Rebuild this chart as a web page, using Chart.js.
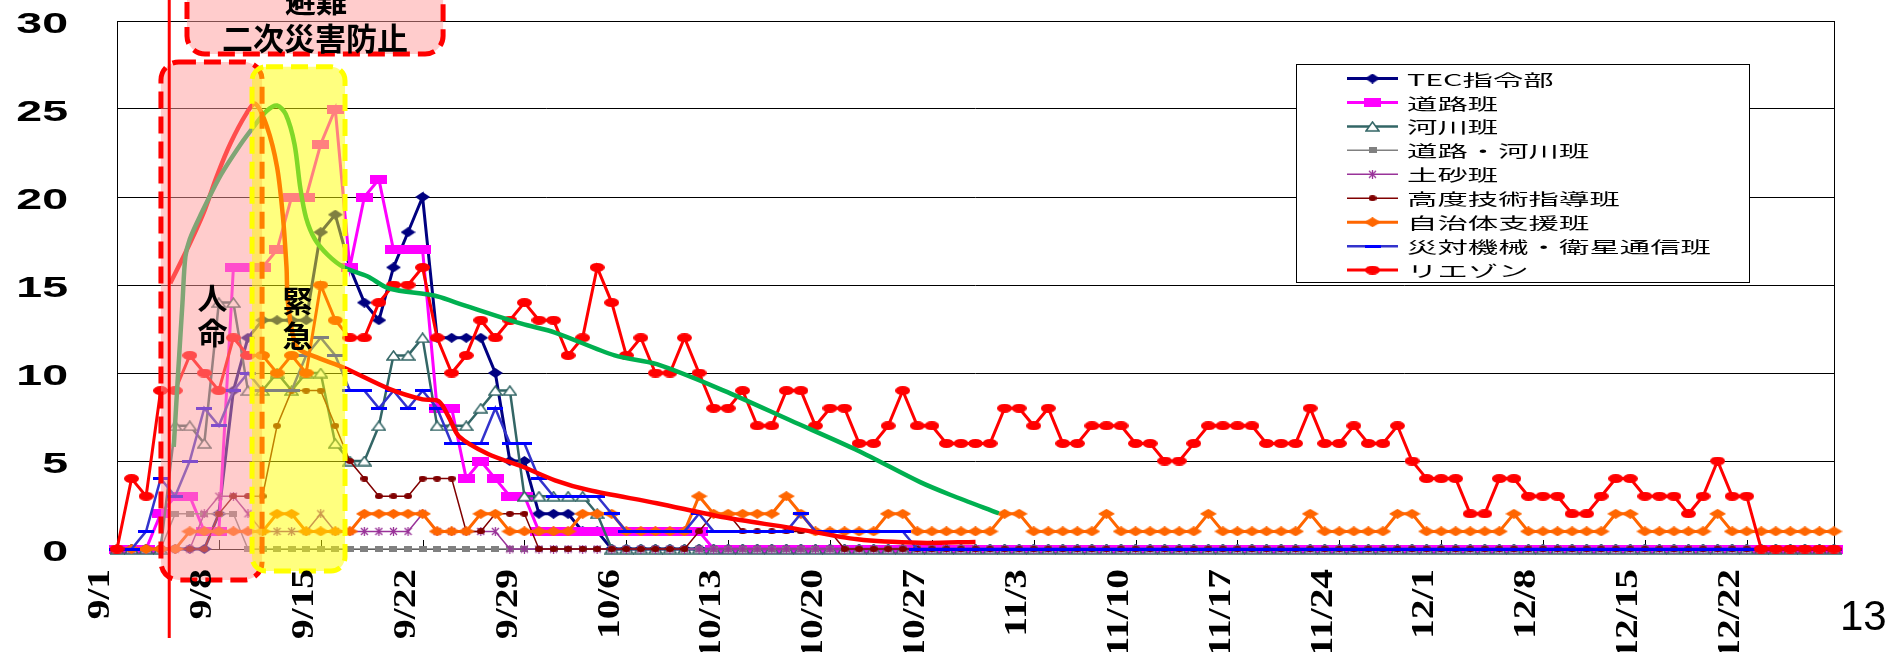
<!DOCTYPE html>
<html>
<head>
<meta charset="utf-8">
<script src="https://cdn.jsdelivr.net/npm/chart.js@4.4.1/dist/chart.umd.min.js"></script>
<style>
  html, body { margin: 0; padding: 0; background: #fff; overflow: hidden; }
  canvas { display: block; }
</style>
</head>
<body>
<canvas id="dispatch" width="1889" height="652"></canvas>
<script>
// x = day counted from 9/1 (0) up to 12/28 (118), one value per day, rows = weeks
var tickDays = [0, 7, 14, 21, 28, 35, 42, 49, 56, 63, 70, 77, 84, 91, 98, 105, 112]
var tickLabels = ['9/1', '9/8', '9/15', '9/22', '9/29', '10/6', '10/13', '10/20', '10/27',
                  '11/3', '11/10', '11/17', '11/24', '12/1', '12/8', '12/15', '12/22']
var yTicks = [0, 5, 10, 15, 20, 25, 30]

var seriesNames = ['TEC指令部', '道路班', '河川班', '道路・河川班', '土砂班',
                   '高度技術指導班', '自治体支援班', '災対機械・衛星通信班', 'リエゾン']

var tec = [
  0,0,0,0,0,0,0,  2,9,12,13,13,13,13,  18,19,16,14,13,16,18,  20,12,12,12,12,10,5,
  5,2,2,2,1,1,0,  0,0,0,0,0,0,0,  0,0,0,0,0,0,0,  0,0,0,0,0,0,0,  0,0,0,0,0,0,0,
  0,0,0,0,0,0,0,  0,0,0,0,0,0,0,  0,0,0,0,0,0,0,  0,0,0,0,0,0,0,  0,0,0,0,0,0,0,
  0,0,0,0,0,0,0,  0,0,0,0,0,0,0,  0,0,0,0,0,0,0
]
var road = [
  0,0,0,2,3,3,1,  1,16,16,16,17,20,20,  23,25,16,20,21,17,17,  17,8,8,4,5,4,3,
  3,1,1,1,1,1,1,  1,1,1,1,1,1,0,  0,0,0,0,0,0,0,  0,0,0,0,0,0,0,  0,0,0,0,0,0,0,
  0,0,0,0,0,0,0,  0,0,0,0,0,0,0,  0,0,0,0,0,0,0,  0,0,0,0,0,0,0,  0,0,0,0,0,0,0,
  0,0,0,0,0,0,0,  0,0,0,0,0,0,0,  0,0,0,0,0,0,0
]
var river = [
  0,0,0,0,7,7,6,  14,14,9,9,10,9,10,  10,6,5,5,7,11,11,  12,7,7,7,8,9,9,
  3,3,3,3,3,2,0,  0,0,0,0,0,0,0,  0,0,0,0,0,0,0,  0,0,0,0,0,0,0,  0,0,0,0,0,0,0,
  0,0,0,0,0,0,0,  0,0,0,0,0,0,0,  0,0,0,0,0,0,0,  0,0,0,0,0,0,0,  0,0,0,0,0,0,0,
  0,0,0,0,0,0,0,  0,0,0,0,0,0,0,  0,0,0,0,0,0,0
]
var roadRiver = [
  0,0,0,0,2,2,2,  2,2,0,0,0,0,0,  0,0,0,0,0,0,0,  0,0,0,0,0,0,0,
  0,0,0,0,0,0,0,  0,0,0,0,0,0,0,  0,0,0,0,0,0,0,  0,0,0,0,0,0,0,  0,0,0,0,0,0,0,
  0,0,0,0,0,0,0,  0,0,0,0,0,0,0,  0,0,0,0,0,0,0,  0,0,0,0,0,0,0,  0,0,0,0,0,0,0,
  0,0,0,0,0,0,0,  0,0,0,0,0,0,0,  0,0,0,0,0,0,0
]
var sediment = [
  0,0,0,0,0,0,2,  3,3,2,1,1,1,1,  2,1,1,1,1,1,1,  2,1,1,1,1,1,0,
  0,0,0,0,0,0,0,  0,0,0,0,0,0,0,  0,0,0,0,0,0,0,  0,0,0,0,0,0,0,  0,0,0,0,0,0,0,
  0,0,0,0,0,0,0,  0,0,0,0,0,0,0,  0,0,0,0,0,0,0,  0,0,0,0,0,0,0,  0,0,0,0,0,0,0,
  0,0,0,0,0,0,0,  0,0,0,0,0,0,0,  0,0,0,0,0,0,0
]
var expert = [
  0,0,0,0,0,0,0,  2,3,3,3,7,9,9,  9,7,5,4,3,3,3,  4,4,4,1,1,2,2,
  2,0,0,0,0,0,0,  0,0,0,0,0,1,2,  2,1,1,1,1,1,1,  1,0,0,0,0,0,0,  0,0,0,0,0,0,0,
  0,0,0,0,0,0,0,  0,0,0,0,0,0,0,  0,0,0,0,0,0,0,  0,0,0,0,0,0,0,  0,0,0,0,0,0,0,
  0,0,0,0,0,0,0,  0,0,0,0,0,0,0,  0,0,0,0,0,0,0
]
var municipal = [
  0,0,0,0,0,1,1,  1,1,1,1,2,2,1,  1,1,1,2,2,2,2,  2,1,1,1,2,2,1,
  1,1,1,1,2,2,2,  1,1,1,1,1,3,2,  2,2,2,2,3,2,1,  1,1,1,1,2,2,1,  1,1,1,1,1,2,2,
  1,1,1,1,1,2,1,  1,1,1,1,1,2,1,  1,1,1,1,1,2,1,  1,1,1,1,2,2,1,  1,1,1,1,1,2,1,
  1,1,1,1,1,2,2,  1,1,1,1,1,2,1,  1,1,1,1,1,1,1
]
var machinery = [
  0,0,1,4,3,5,8,  7,9,10,9,9,9,11,  12,11,9,9,8,9,8,  9,8,6,6,6,8,6,
  6,4,3,3,3,3,2,  1,1,1,1,1,2,1,  1,1,1,1,1,2,1,  1,1,1,1,1,1,0,  0,0,0,0,0,0,0,
  0,0,0,0,0,0,0,  0,0,0,0,0,0,0,  0,0,0,0,0,0,0,  0,0,0,0,0,0,0,  0,0,0,0,0,0,0,
  0,0,0,0,0,0,0,  0,0,0,0,0,0,0,  0,0,0,0,0,0,0
]
var liaison = [
  0,4,3,9,9,11,10,  9,12,11,11,10,11,10,  15,13,12,12,14,15,15,  16,12,10,11,13,12,13,
  14,13,13,11,12,16,14,  11,12,10,10,12,10,8,  8,9,7,7,9,9,7,  8,8,6,6,7,9,7,  7,6,6,6,6,8,8,
  7,8,6,6,7,7,7,  6,6,5,5,6,7,7,  7,7,6,6,6,8,6,  6,7,6,6,7,5,4,  4,4,2,2,4,4,3,
  3,3,2,2,3,4,4,  3,3,3,2,3,5,3,  3,0,0,0,0,0,0
]
var seriesValues = [tec, road, river, roadRiver, sediment, expert, municipal, machinery, liaison]

// hand drawn trend curves [day, value]
var curveRed = [[3.66,15.1],[4.8,17],[5.95,19.1],[6.87,21.2],[7.8,23.05],[8.9,24.75],[9.5,25.3],
  [10.3,24],[11.0,21.7],[11.4,18.9],[11.65,16],[11.75,14],[12.35,11.5],[13.7,10.9],[15.6,10.3],
  [18.7,9.1],[21,8.5],[22.1,8.4],[22.8,7.5],[23.5,6.4],[25.5,5.4],[27.8,4.7],[30.1,3.9],
  [32.4,3.35],[37.1,2.6],[41.7,1.8],[46.3,1.2],[50.9,0.55],[55.2,0.35],[59,0.4]]
var curveGreen = [[3.9,5.8],[4.2,10],[4.5,14],[4.7,16.6],[5.0,17.6],[5.7,18.9],[7.1,21.2],
  [8.5,23],[9.4,24],[10.3,24.9],[11.0,25.2],[11.6,24.7],[12.2,23],[12.6,20.5],[13.0,18.8],
  [13.6,17.6],[14.5,16.7],[15.6,16],[17.2,15.5],[18.7,14.8],[21.8,14.4],[23.3,14],[27.8,12.8],
  [30.1,12.3],[34.2,11],[37.1,10.5],[41.7,9],[46.3,7.3],[50.9,5.6],[55.2,3.8],[57.3,3.07],[60.6,2.03]]

// annotation shapes, in chart units (day, value)
var boxes = [
  { from: 4.81, to: 22.41, top: 33.5, bottom: 28.13, radius: 18, fill: 'rgba(255,153,153,0.5)', stroke: '#ff0000' },
  { from: 3.02, to: 9.97, top: 27.67, bottom: -1.76, radius: 18, fill: 'rgba(255,153,153,0.5)', stroke: '#ff0000' },
  { from: 9.28, to: 15.67, top: 27.4, bottom: -1.25, radius: 14, fill: 'rgba(255,255,0,0.5)', stroke: '#ffff00' }
]
var startLine = { day: 3.59, top: 31.2, bottom: -5.05 }
var notes = [
  ['避難', 13.68, 31.2, 31], ['二次災害防止', 13.6, 29.0, 31],
  ['人', 6.56, 14.3, 30], ['命', 6.56, 12.3, 30],
  ['緊', 12.41, 14.1, 30], ['急', 12.41, 12.1, 30]
]

function marker(w, h, paint) {
  var c = document.createElement('canvas')
  c.width = w; c.height = h
  paint(c.getContext('2d'), w, h)
  return c
}
function diamond(color, w, h) {
  return marker(w, h, function (g) {
    g.fillStyle = color
    g.beginPath(); g.moveTo(w / 2, 0); g.lineTo(w, h / 2); g.lineTo(w / 2, h); g.lineTo(0, h / 2); g.closePath(); g.fill()
  })
}
function block(color, w, h) {
  return marker(w, h, function (g) { g.fillStyle = color; g.fillRect(0, 0, w, h) })
}
function oval(color, w, h) {
  return marker(w, h, function (g) {
    g.fillStyle = color
    g.beginPath(); g.ellipse(w / 2, h / 2, w / 2, h / 2, 0, 0, Math.PI * 2); g.fill()
  })
}
function triangle(color, w, h) {
  return marker(w, h, function (g) {
    g.fillStyle = '#fff'; g.strokeStyle = color; g.lineWidth = 1.5
    g.beginPath(); g.moveTo(w / 2, 1); g.lineTo(w - 1, h - 1); g.lineTo(1, h - 1); g.closePath(); g.fill(); g.stroke()
  })
}
function star(color, s) {
  return marker(s, s, function (g) {
    g.strokeStyle = color; g.lineWidth = 1.3
    g.beginPath()
    g.moveTo(1, 1); g.lineTo(s - 1, s - 1); g.moveTo(s - 1, 1); g.lineTo(1, s - 1)
    g.moveTo(s / 2, 0); g.lineTo(s / 2, s)
    g.stroke()
  })
}

var styles = [
  { color: '#000080', width: 3, marker: diamond('#000080', 15, 10) },
  { color: '#ff00ff', width: 3, marker: block('#ff00ff', 17, 9) },
  { color: '#336666', width: 2.5, marker: triangle('#336666', 15, 11) },
  { color: '#808080', width: 1.5, marker: block('#808080', 8, 6) },
  { color: '#993399', width: 1.5, marker: star('#993399', 9) },
  { color: '#800000', width: 1.5, marker: oval('#800000', 8, 6) },
  { color: '#ff6600', width: 3, marker: diamond('#ff6600', 17, 10) },
  { color: '#3333cc', width: 2.5, marker: block('#0000ff', 16, 3) },
  { color: '#ff0000', width: 3, marker: oval('#ff0000', 15, 9) }
]

var datasets = seriesNames.map(function (name, i) {
  return {
    label: name,
    data: seriesValues[i].map(function (v, d) { return { x: d, y: v } }),
    borderColor: styles[i].color,
    backgroundColor: styles[i].color,
    borderWidth: styles[i].width,
    pointStyle: styles[i].marker,
    pointRadius: 4,
    pointHoverRadius: 4,
    pointBorderWidth: 0,
    tension: 0,
    clip: false,
    order: 50 - i
  }
})
;[[curveRed, '#ff0000', 1], [curveGreen, '#00b050', 0]].forEach(function (c) {
  datasets.push({
    label: '',
    data: c[0].map(function (p) { return { x: p[0], y: p[1] } }),
    borderColor: c[1],
    borderWidth: 4.5,
    pointRadius: 0,
    tension: 0.3,
    clip: false,
    order: c[2]
  })
})

function stretchText(ctx, text, x, y, sx, align, rot) {
  ctx.save()
  ctx.translate(x, y)
  if (rot) ctx.rotate(rot)
  ctx.scale(sx, 1)
  ctx.textAlign = align
  ctx.textBaseline = 'middle'
  ctx.fillText(text, 0, 0)
  ctx.restore()
}

var decorations = {
  id: 'decorations',
  beforeDatasetsDraw: function (chart) {
    var ctx = chart.ctx, a = chart.chartArea, sx = chart.scales.x
    ctx.save()
    ctx.strokeStyle = '#000'
    ctx.lineWidth = 1
    ctx.strokeRect(a.left + 0.5, a.top + 0.5, a.right - a.left, a.bottom - a.top)
    tickDays.forEach(function (d) {
      var x = Math.round(sx.getPixelForValue(d)) + 0.5
      ctx.beginPath(); ctx.moveTo(x, a.bottom); ctx.lineTo(x, a.bottom - 9); ctx.stroke()
    })
    ctx.restore()
  },
  afterDatasetsDraw: function (chart) {
    var ctx = chart.ctx, sx = chart.scales.x, sy = chart.scales.y
    ctx.save()
    boxes.forEach(function (b) {
      var x0 = sx.getPixelForValue(b.from), x1 = sx.getPixelForValue(b.to)
      var y0 = sy.getPixelForValue(b.top), y1 = sy.getPixelForValue(b.bottom)
      ctx.beginPath()
      ctx.roundRect(x0, y0, x1 - x0, y1 - y0, b.radius)
      ctx.fillStyle = b.fill
      ctx.fill()
      ctx.setLineDash([17, 8])
      ctx.lineWidth = 5
      ctx.strokeStyle = b.stroke
      ctx.stroke()
    })
    ctx.setLineDash([])
    var lx = sx.getPixelForValue(startLine.day)
    ctx.strokeStyle = '#ff0000'
    ctx.lineWidth = 3
    ctx.beginPath()
    ctx.moveTo(lx, sy.getPixelForValue(startLine.top))
    ctx.lineTo(lx, sy.getPixelForValue(startLine.bottom))
    ctx.stroke()
    ctx.fillStyle = '#000'
    ctx.textAlign = 'center'
    ctx.textBaseline = 'middle'
    notes.forEach(function (n) {
      ctx.font = 'bold ' + n[3] + 'px "Noto Sans CJK JP"'
      ctx.fillText(n[0], sx.getPixelForValue(n[1]), sy.getPixelForValue(n[2]))
    })
    ctx.restore()
  },
  afterDraw: function (chart) {
    var ctx = chart.ctx, sx = chart.scales.x, sy = chart.scales.y, a = chart.chartArea
    ctx.save()
    ctx.fillStyle = '#000'
    // value axis labels
    ctx.font = 'bold 30px "Liberation Sans"'
    yTicks.forEach(function (v) {
      stretchText(ctx, String(v), 68, sy.getPixelForValue(v) + 4, 1.55, 'right')
    })
    // date labels, rotated
    ctx.font = 'bold 32px "Liberation Serif"'
    tickDays.forEach(function (d, i) {
      stretchText(ctx, tickLabels[i], sx.getPixelForValue(d) - 16, a.bottom + 20, 1.23, 'right', -Math.PI / 2)
    })
    ctx.font = '42px "Liberation Sans"'
    ctx.textAlign = 'left'
    ctx.textBaseline = 'alphabetic'
    ctx.fillText('13', 1840, 630)

    // legend
    var lg = { x: 1296.5, y: 64.5, w: 453, h: 218, row0: 78.5, rowH: 23.95 }
    ctx.fillStyle = '#fff'
    ctx.fillRect(lg.x, lg.y, lg.w, lg.h)
    ctx.strokeStyle = '#000'
    ctx.lineWidth = 1
    ctx.strokeRect(lg.x, lg.y, lg.w, lg.h)
    ctx.font = '16px "Noto Sans CJK JP"'
    for (var i = 0; i < seriesNames.length; i++) {
      var ds = chart.data.datasets[i]
      var y = lg.row0 + i * lg.rowH
      ctx.strokeStyle = ds.borderColor
      ctx.lineWidth = ds.borderWidth
      ctx.beginPath(); ctx.moveTo(1347, y); ctx.lineTo(1398, y); ctx.stroke()
      var m = ds.pointStyle
      ctx.drawImage(m, 1372.5 - m.width / 2, y - m.height / 2)
      ctx.fillStyle = '#000'
      stretchText(ctx, ds.label, 1407, y + 1, 1.9, 'left')
    }
    ctx.restore()
  }
}

new Chart(document.getElementById('dispatch'), {
  type: 'line',
  data: { datasets: datasets },
  options: {
    responsive: false,
    animation: false,
    devicePixelRatio: 1,
    layout: { padding: { left: 117, top: 21, right: 55, bottom: 103 } },
    scales: {
      x: {
        type: 'linear', min: 0, max: 118,
        ticks: { display: false },
        grid: { display: false, drawTicks: false },
        border: { display: false },
        afterFit: function (s) { s.height = 0 }
      },
      y: {
        type: 'linear', min: 0, max: 30,
        ticks: { display: false, stepSize: 5 },
        grid: { color: '#000', lineWidth: 1, drawTicks: false },
        border: { display: false },
        afterFit: function (s) { s.width = 0 }
      }
    },
    plugins: { legend: { display: false }, tooltip: { enabled: false } }
  },
  plugins: [decorations]
})
</script>
</body>
</html>
